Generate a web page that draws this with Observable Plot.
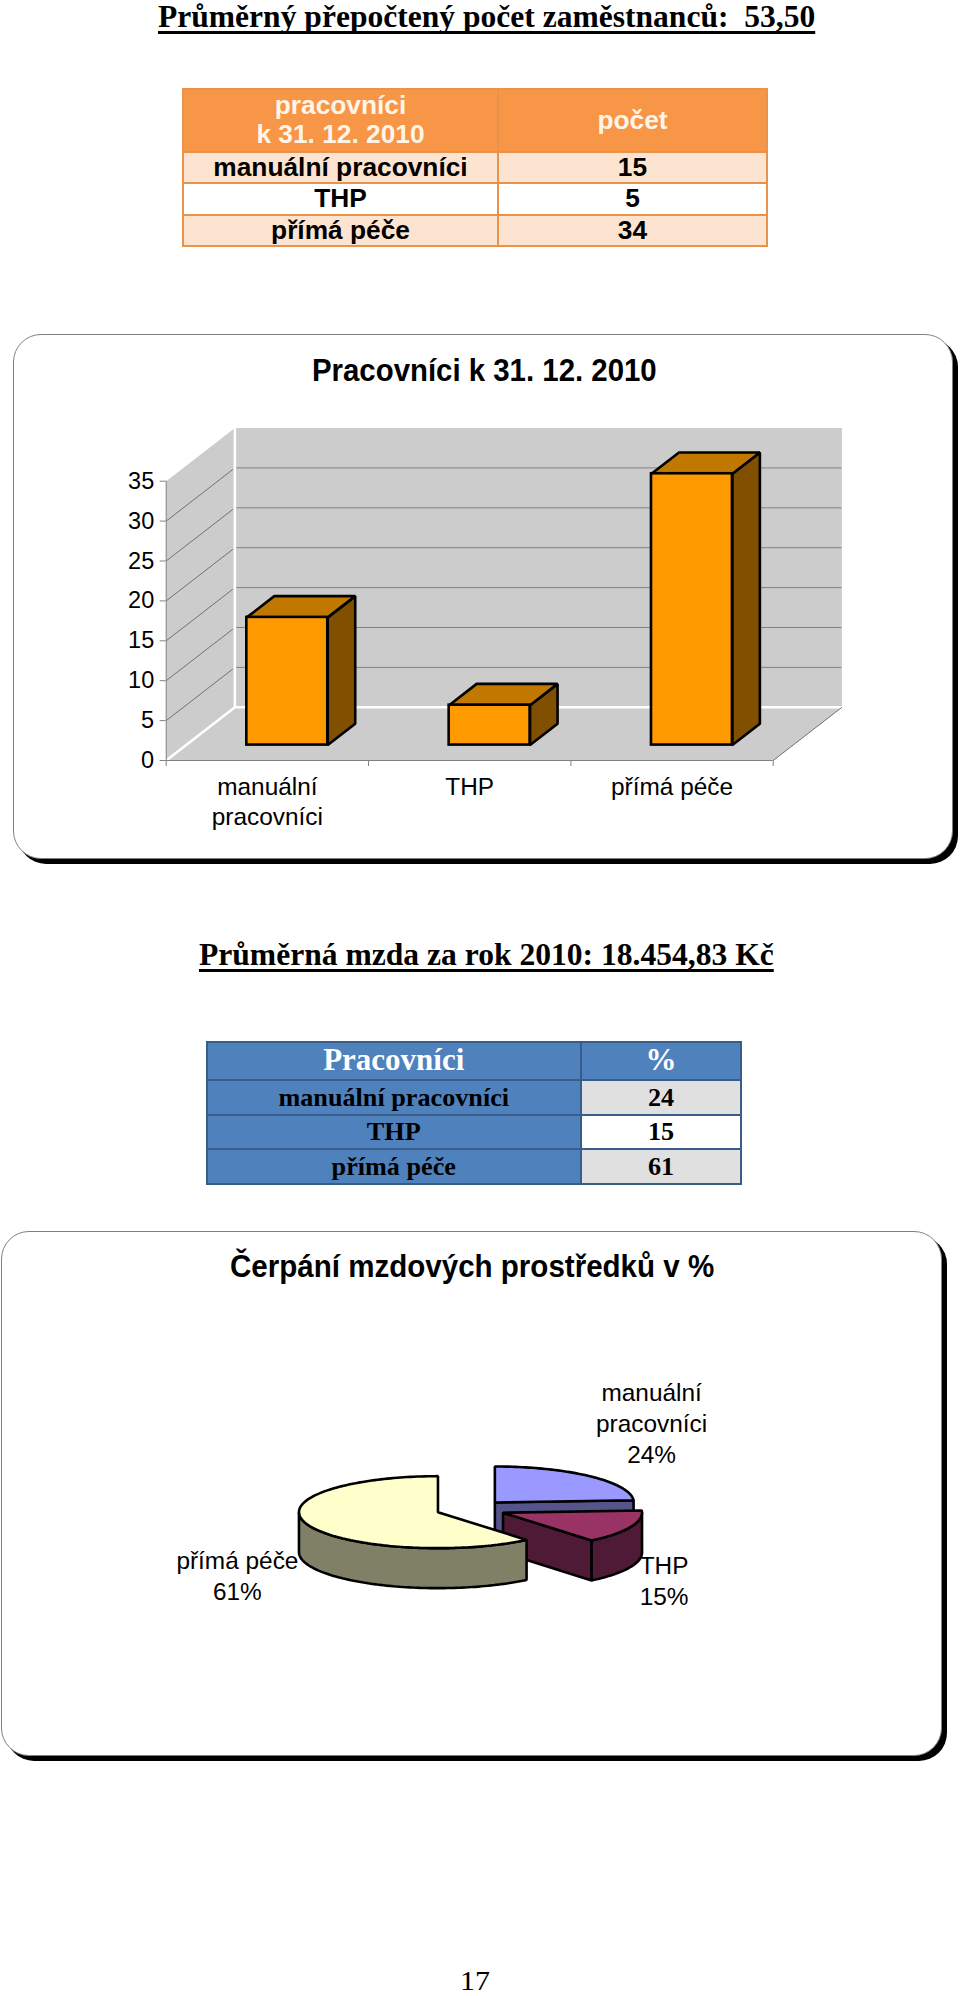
<!DOCTYPE html>
<html><head><meta charset="utf-8">
<script src="https://cdn.jsdelivr.net/npm/d3@7"></script>
<script src="https://cdn.jsdelivr.net/npm/@observablehq/plot@0.6"></script>
<style>
html,body{margin:0;padding:0;background:#fff}
#page{position:relative;width:960px;height:1996px;overflow:hidden}
.card{position:absolute;box-sizing:border-box;background:#fff;border:1px solid #808080;border-radius:28px;box-shadow:5px 5px 0 #000}
.ttl{position:absolute;white-space:nowrap;transform-origin:0 0;line-height:1}
table{position:absolute;border-collapse:collapse;table-layout:fixed;box-sizing:border-box}
td{padding:0;text-align:center;vertical-align:middle;line-height:1.12}
.t1{font-family:"Liberation Sans",sans-serif;font-weight:bold;font-size:26.3px;color:#000}
.t1 td{border:2px solid #E8924A}
.t2{font-family:"Liberation Serif",serif;font-weight:bold;font-size:26.2px;color:#000}
.t2 td{border:2px solid #385D8A}
svg{position:absolute;left:0;overflow:visible}
</style></head>
<body><div id="page"></div>
<script>
// ---- data ----
const headline1 = "Průměrný přepočtený počet zaměstnanců:  53,50";
const headline2 = "Průměrná mzda za rok 2010: 18.454,83 Kč";
const barTitle = "Pracovníci k 31. 12. 2010";
const pieTitle = "Čerpání mzdových prostředků v %";
const pageNumber = "17";
const categories = ["manuální pracovníci", "THP", "přímá péče"];
const headcountTable = [15, 5, 34];
const barValues = [16, 5, 34];
const wageShares = [24, 15, 61];
const yTicks = [0, 5, 10, 15, 20, 25, 30, 35];
const pieColors = [
  {top: "#9999FF", side: "#55558C"},
  {top: "#993366", side: "#4F1A36"},
  {top: "#FFFFCC", side: "#808066"}
];

const page = document.getElementById("page");
const wrapName = (s) => s.replace(" pracovníci", "\npracovníci");

function addTitle(text, x, y, w, font, size, extra = {}) {
  const el = document.createElement("div");
  el.className = "ttl";
  el.textContent = text;
  el.style.whiteSpace = "pre";
  el.style.font = font + " " + size + "px " + (extra.family || '"Liberation Serif",serif');
  el.style.lineHeight = "1";
  el.style.left = x + "px";
  el.style.top = y + "px";
  if (extra.underline) {
    el.style.textDecoration = "underline";
    el.style.textDecorationThickness = "2.5px";
    el.style.textUnderlineOffset = "4px";
    el.style.textDecorationSkipInk = "none";
  }
  page.appendChild(el);
  if (w) el.style.transform = "scaleX(" + (w / el.offsetWidth) + ")";
  return el;
}
function addCard(x, y, r, b) {
  const el = document.createElement("div");
  el.className = "card";
  el.style.cssText = `left:${x}px;top:${y}px;width:${r - x}px;height:${b - y}px`;
  page.appendChild(el);
}
function addTable(cls, x, y, colW, rowH, rows, styleCell) {
  const t = document.createElement("table");
  t.className = cls;
  t.style.left = x + "px"; t.style.top = y + "px";
  t.style.width = (colW[0] + colW[1]) + "px";
  const cg = document.createElement("colgroup");
  colW.forEach(w => { const c = document.createElement("col"); c.style.width = w + "px"; cg.appendChild(c); });
  t.appendChild(cg);
  rows.forEach((row, ri) => {
    const tr = document.createElement("tr");
    tr.style.height = rowH[ri] + "px";
    row.forEach((txt, ci) => {
      const td = document.createElement("td");
      td.style.whiteSpace = "pre-line";
      td.textContent = txt;
      styleCell(td, ri, ci);
      tr.appendChild(td);
    });
    t.appendChild(tr);
  });
  page.appendChild(t);
}

// ---- headline and first table ----
addTitle(headline1, 157.5, 0.7, 657.5, "bold", 31, {underline: true});
addTable("t1", 182, 88, [315, 269], [62.7, 31.4, 31.6, 31.4],
  [["pracovníci\nk 31. 12. 2010", "počet"], ...categories.map((c, i) => [c, headcountTable[i]])],
  (td, r, c) => {
    if (r === 0) { td.style.background = "#F79646"; td.style.color = "#FFF4E8"; }
    else td.style.background = r === 2 ? "#FFFFFF" : "#FDE4D0";
  });

// ---- 3D column chart card ----
addCard(13, 334, 953, 859);
addTitle(barTitle, 311.5, 355, 345, "bold", 31, {family: '"Liberation Sans",sans-serif'});

const depthX = 0.3395, depthY = 6.667;          // oblique depth, in scale units
const proj = (cat, val, d) => ({x: cat + d * depthX, y: val + d * depthY});
const poly = (pts, fill, stroke, strokeWidth) =>
  Plot.line(pts, {x: "x", y: "y", curve: "linear-closed", fill, stroke: stroke || "none", strokeWidth: strokeWidth || 0, strokeLinejoin: "miter"});
const seg = (pts, stroke, strokeWidth) =>
  Plot.line(pts, {x: "x", y: "y", stroke, strokeWidth, strokeLinecap: "butt"});

const n = categories.length, yTop = yTicks[yTicks.length - 1];
const half = 0.2, d0 = 0.29, d1 = 0.69;
const barItems = categories.map((c, i) => ({c, v: barValues[i], x0: i + 0.5 - half, x1: i + 0.5 + half}));

const barMarks = [
  poly([proj(0, 0, 0), proj(0, yTop, 0), proj(0, yTop, 1), proj(0, 0, 1)], "#CCCCCC"),
  poly([proj(0, 0, 1), proj(0, yTop, 1), proj(n, yTop, 1), proj(n, 0, 1)], "#CCCCCC"),
  poly([proj(0, 0, 0), proj(n, 0, 0), proj(n, 0, 1), proj(0, 0, 1)], "#CCCCCC"),
  ...yTicks.slice(1, -1).map(t => seg([proj(0, t, 0), proj(0, t, 0.97)], "#666666", 0.9)),
  Plot.ruleY(yTicks.slice(1, -1), {y: d => d + depthY, x1: depthX, x2: n + depthX, stroke: "#808080", strokeWidth: 1}),
  seg([proj(0, 0, 0), proj(0, 0, 1), proj(n, 0, 1)], "#FFFFFF", 2.5),
  seg([proj(0, 0, 1), proj(0, yTop, 1)], "#FFFFFF", 2.5),
  seg([proj(n, 0, 0), proj(n, 0, 1)], "#707070", 1),
  Plot.axisY({ticks: yTicks, tickSize: 6, tickPadding: 6, fontSize: 23.5, stroke: "#808080", fill: "#000", label: null, tickFormat: d => String(d)}),
  Plot.axisX({ticks: d3.range(0, n + 1), tickSize: 6, tickFormat: () => "", stroke: "#808080", label: null}),
  Plot.ruleY([0], {x1: 0, x2: n, stroke: "#808080", strokeWidth: 1}),
  Plot.ruleX([0], {y1: 0, y2: yTop, stroke: "#808080", strokeWidth: 1}),
  Plot.axisX({ticks: categories.map((c, i) => i + 0.5), tickSize: 0, tickPadding: 12, fontSize: 24.4, lineHeight: 1.27, fill: "#000", label: null,
    tickFormat: d => wrapName(categories[Math.floor(d)])}),
  ...barItems.flatMap(b => [
    poly([proj(b.x1, 0, d0), proj(b.x1, b.v, d0), proj(b.x1, b.v, d1), proj(b.x1, 0, d1)], "#805000", "#000", 2.6),
    poly([proj(b.x0, b.v, d0), proj(b.x1, b.v, d0), proj(b.x1, b.v, d1), proj(b.x0, b.v, d1)], "#C07800", "#000", 2.6)
  ]),
  Plot.rect(barItems, {
    x1: d => proj(d.x0, 0, d0).x, x2: d => proj(d.x1, 0, d0).x,
    y1: d => proj(0, 0, d0).y, y2: d => proj(0, d.v, d0).y,
    fill: "#FF9900", stroke: "#000", strokeWidth: 2.6, strokeLinejoin: "miter"
  })
];
const barSvg = Plot.plot({
  width: 960, height: 530,
  marginLeft: 165.7, marginRight: 187.3, marginTop: 146.7, marginBottom: 104,
  style: {background: "transparent", overflow: "visible", fontFamily: '"Liberation Sans",sans-serif', color: "#000"},
  x: {type: "linear", domain: [0, n], axis: null},
  y: {type: "linear", domain: [0, yTop], axis: null},
  marks: barMarks
});
barSvg.style.position = "absolute"; barSvg.style.left = "0"; barSvg.style.top = "334px";
page.appendChild(barSvg);

// ---- second headline and table ----
addTitle(headline2, 199, 939, 574.5, "bold", 31, {underline: true});
addTable("t2", 205.5, 1041, [374.5, 160], [37.7, 35, 34.5, 34.4],
  [["Pracovníci", "%"], ...categories.map((c, i) => [c, wageShares[i]])],
  (td, r, c) => {
    if (r === 0) { td.style.background = "#4F81BD"; td.style.color = "#fff"; td.style.fontSize = "31px"; }
    else if (c === 0) td.style.background = "#4F81BD";
    else td.style.background = r === 2 ? "#FFFFFF" : "#E0E0E0";
  });

// ---- exploded 3D pie card ----
addCard(1, 1230.5, 942, 1755.5);
addTitle(pieTitle, 229.5, 1251, 484, "bold", 31, {family: '"Liberation Sans",sans-serif'});

const explode = 0.2518, thick = 1.11;           // in unit-ellipse scale units
const total = d3.sum(wageShares);
let acc = 0;
const slices = categories.map((c, i) => {
  const a0 = acc / total * 2 * Math.PI; acc += wageShares[i];
  const a1 = acc / total * 2 * Math.PI, m = (a0 + a1) / 2;
  return {name: c, share: wageShares[i], a0, a1, cx: explode * Math.sin(m), cy: explode * Math.cos(m), ...pieColors[i]};
});
const rimPt = (s, a, drop = 0) => ({x: s.cx + Math.sin(a), y: s.cy + Math.cos(a) - drop});
const arcPts = (s, a0, a1, drop = 0) => {
  const k = Math.max(2, Math.ceil((a1 - a0) * 40));
  return d3.range(k + 1).map(j => rimPt(s, a0 + (a1 - a0) * j / k, drop));
};
const sw = 2.6;
const pieMarks = slices.flatMap((s, i) => {
  const out = [];
  const center = {x: s.cx, y: s.cy}, centerLow = {x: s.cx, y: s.cy - thick};
  if (i < 2) out.push(poly([center, rimPt(s, s.a1), rimPt(s, s.a1, thick), centerLow], s.side, "#000", sw));
  const r0 = Math.max(s.a0, Math.PI / 2), r1 = Math.min(s.a1, 3 * Math.PI / 2);
  if (r1 > r0) out.push(poly([...arcPts(s, r0, r1), ...arcPts(s, r0, r1, thick).reverse()], s.side, "#000", sw));
  out.push(poly([center, ...arcPts(s, s.a0, s.a1)], s.top, "#000", sw));
  return out;
});
// label anchors in unit-ellipse coordinates
const pieLabelAt = [{x: 1.30, y: 2.41}, {x: 1.39, y: -1.96}, {x: -1.68, y: -1.83}];
const pieLabels = slices.map((s, i) => ({...pieLabelAt[i], text: wrapName(s.name) + "\n" + s.share + "%"}));
pieMarks.push(Plot.text(pieLabels, {x: "x", y: "y", text: "text", fontSize: 24.4, lineHeight: 1.27, fill: "#000"}));

const pieSvg = Plot.plot({
  width: 960, height: 500,
  marginLeft: 331.4, marginRight: 350.6, marginTop: 233.6, marginBottom: 194.4,
  style: {background: "transparent", overflow: "visible", fontFamily: '"Liberation Sans",sans-serif', color: "#000"},
  x: {type: "linear", domain: [-1, 1], axis: null},
  y: {type: "linear", domain: [-1, 1], axis: null},
  marks: pieMarks
});
pieSvg.style.position = "absolute"; pieSvg.style.left = "0"; pieSvg.style.top = "1239px";
page.appendChild(pieSvg);

// ---- page number ----
addTitle(pageNumber, 460, 1966.5, 30, "normal", 28);
</script>
</body></html>
